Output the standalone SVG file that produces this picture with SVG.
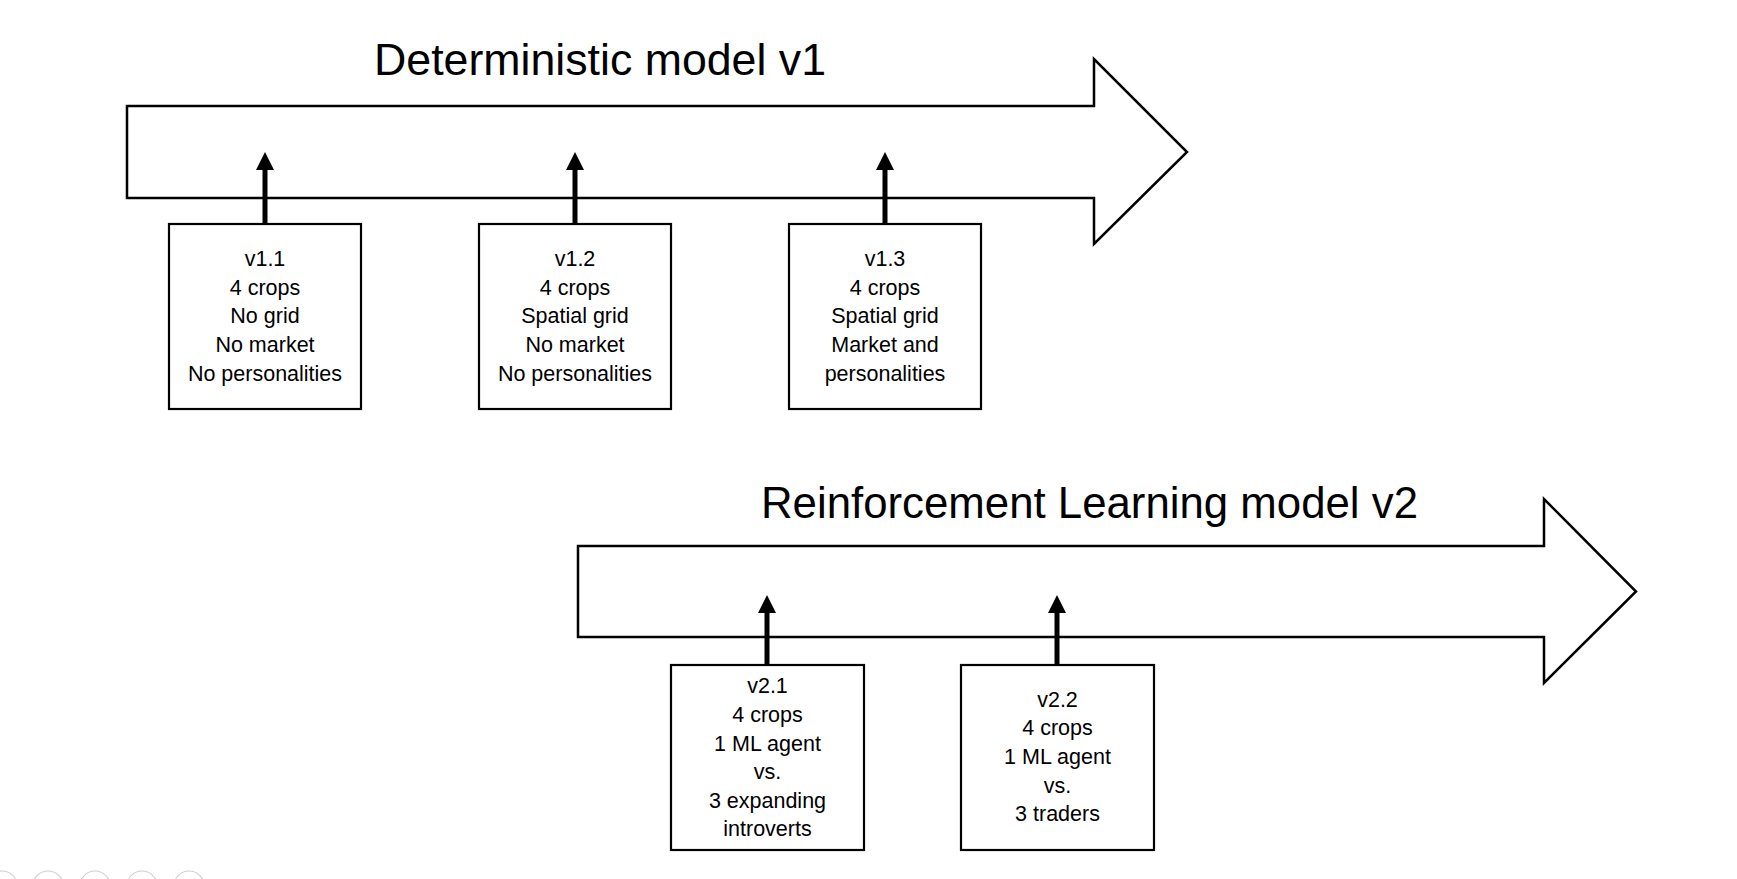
<svg xmlns="http://www.w3.org/2000/svg" width="1737" height="879" viewBox="0 0 1737 879">
  <defs>
    <style>
      .big { fill: #ffffff; stroke: #000000; stroke-width: 2.5; stroke-linejoin: miter; }
      .box { fill: #ffffff; stroke: #000000; stroke-width: 2.2; }
      .title { font-family: "Liberation Sans", Arial, sans-serif; font-size: 44.7px; fill: #000000; }
      .lbl { font-family: "Liberation Sans", Arial, sans-serif; font-size: 21.5px; fill: #000000; text-anchor: middle; }
      .shaft { stroke: #000000; stroke-width: 5; fill: none; }
      .head { fill: #000000; stroke: none; }
      .nav { fill: none; stroke: #cfcfcf; stroke-width: 1.2; }
    </style>
  </defs>
  <rect x="0" y="0" width="1737" height="879" fill="#ffffff"/>

  <g id="timeline-v1">
    <polygon class="big" points="127,106 1094,106 1094,59 1187,152 1094,244 1094,198 127,198"/>
    <text class="title" x="374" y="75" textLength="452" lengthAdjust="spacingAndGlyphs">Deterministic model v1</text>
  </g>

  <g id="timeline-v2">
    <polygon class="big" points="578,546 1544,546 1544,499 1636,591.5 1544,683 1544,637 578,637"/>
    <text class="title" x="761" y="518" textLength="657" lengthAdjust="spacingAndGlyphs">Reinforcement Learning model v2</text>
  </g>

  <g id="connectors">
    <line class="shaft" x1="265" y1="224" x2="265" y2="166"/>
    <polygon class="head" points="265,152 256,170 274,170"/>
    <line class="shaft" x1="575" y1="224" x2="575" y2="166"/>
    <polygon class="head" points="575,152 566,170 584,170"/>
    <line class="shaft" x1="885" y1="224" x2="885" y2="166"/>
    <polygon class="head" points="885,152 876,170 894,170"/>
    <line class="shaft" x1="767" y1="665" x2="767" y2="609"/>
    <polygon class="head" points="767,595 758,613 776,613"/>
    <line class="shaft" x1="1057" y1="665" x2="1057" y2="609"/>
    <polygon class="head" points="1057,595 1048,613 1066,613"/>
  </g>

  <g id="v1-1">
    <rect class="box" x="169" y="224" width="192" height="185"/>
    <text class="lbl" x="265" y="266">v1.1</text>
    <text class="lbl" x="265" y="294.7">4 crops</text>
    <text class="lbl" x="265" y="323.4">No grid</text>
    <text class="lbl" x="265" y="352.1">No market</text>
    <text class="lbl" x="265" y="380.8">No personalities</text>
  </g>

  <g id="v1-2">
    <rect class="box" x="479" y="224" width="192" height="185"/>
    <text class="lbl" x="575" y="266">v1.2</text>
    <text class="lbl" x="575" y="294.7">4 crops</text>
    <text class="lbl" x="575" y="323.4">Spatial grid</text>
    <text class="lbl" x="575" y="352.1">No market</text>
    <text class="lbl" x="575" y="380.8">No personalities</text>
  </g>

  <g id="v1-3">
    <rect class="box" x="789" y="224" width="192" height="185"/>
    <text class="lbl" x="885" y="266">v1.3</text>
    <text class="lbl" x="885" y="294.7">4 crops</text>
    <text class="lbl" x="885" y="323.4">Spatial grid</text>
    <text class="lbl" x="885" y="352.1">Market and</text>
    <text class="lbl" x="885" y="380.8">personalities</text>
  </g>

  <g id="v2-1">
    <rect class="box" x="671" y="665" width="193" height="185"/>
    <text class="lbl" x="767.5" y="693.3">v2.1</text>
    <text class="lbl" x="767.5" y="721.9">4 crops</text>
    <text class="lbl" x="767.5" y="750.5">1 ML agent</text>
    <text class="lbl" x="767.5" y="779.1">vs.</text>
    <text class="lbl" x="767.5" y="807.7">3 expanding</text>
    <text class="lbl" x="767.5" y="836.3">introverts</text>
  </g>

  <g id="v2-2">
    <rect class="box" x="961" y="665" width="193" height="185"/>
    <text class="lbl" x="1057.5" y="706.7">v2.2</text>
    <text class="lbl" x="1057.5" y="735.3">4 crops</text>
    <text class="lbl" x="1057.5" y="763.9">1 ML agent</text>
    <text class="lbl" x="1057.5" y="792.5">vs.</text>
    <text class="lbl" x="1057.5" y="821.1">3 traders</text>
  </g>

  <g id="nav-icons">
    <circle class="nav" cx="2" cy="886" r="15"/>
    <circle class="nav" cx="48" cy="886" r="15"/>
    <circle class="nav" cx="95" cy="886" r="15"/>
    <circle class="nav" cx="142" cy="886" r="15"/>
    <circle class="nav" cx="189" cy="886" r="15"/>
  </g>
</svg>
